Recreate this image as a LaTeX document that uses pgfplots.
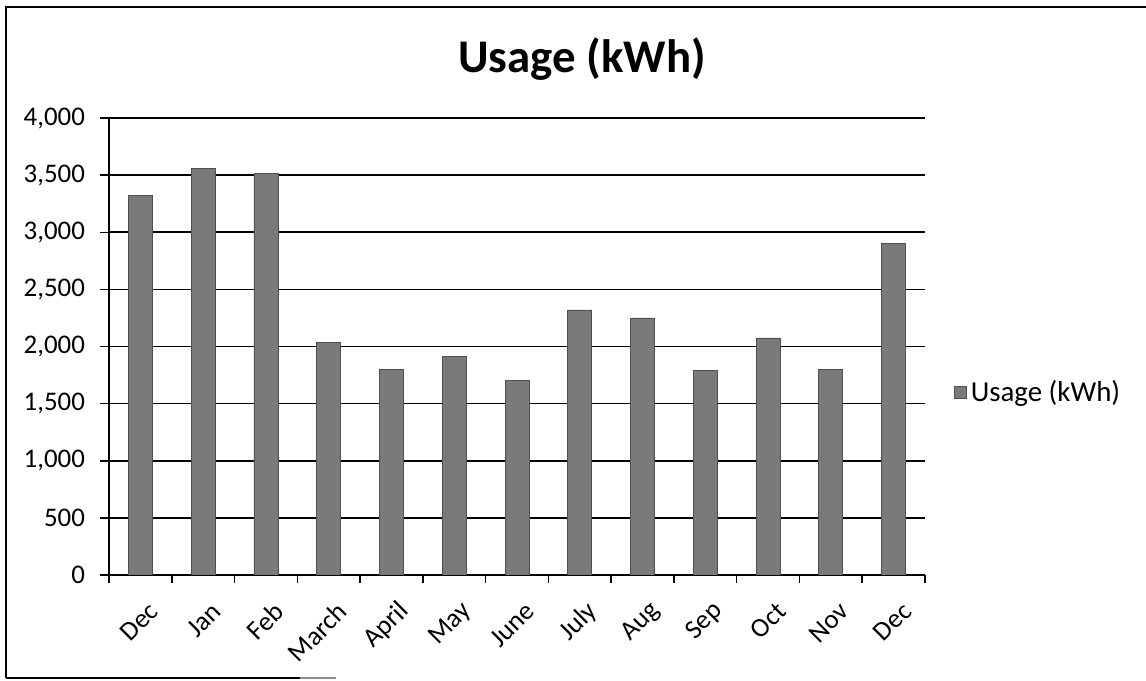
\documentclass[border=0pt]{standalone}
\usepackage{fontspec}
\setmainfont{Carlito}
\usepackage{pgfplots}
\pgfplotsset{compat=1.18}

\definecolor{barfill}{RGB}{122,122,122}
\definecolor{bardraw}{RGB}{80,80,80}

\pgfplotstableread{
idx value
0  3325
1  3560
2  3515
3  2035
4  1800
5  1910
6  1705
7  2320
8  2250
9  1790
10 2075
11 1800
12 2905
}\usagedata

\begin{document}
\begin{tikzpicture}
% canvas: 1146 x 681 px at 0.5bp per px
\useasboundingbox (0,0) rectangle (573bp,340.5bp);
% chart frame (scanned: left, top, part of bottom)
\draw[black, line width=0.6bp] (3bp,1.5bp) -- (3bp,337bp) -- (573bp,337bp);
\draw[black, line width=0.6bp] (3bp,1.5bp) -- (150bp,1.5bp);
\draw[black!45, line width=0.6bp] (150bp,1.5bp) -- (168bp,1.5bp);

\node[font=\bfseries\fontsize{23.5}{27}\selectfont, anchor=center] at (291bp,311bp) {Usage (kWh)};

\begin{axis}[
    at={(54.5bp,53bp)}, anchor=south west,
    scale only axis, width=408bp, height=228.5bp,
    ybar, bar width=12bp,
    xmin=-0.5, xmax=12.5,
    ymin=0, ymax=4000,
    ytick={0,500,...,4000},
    xtick={0,...,12},
    xticklabels={Dec,Jan,Feb,March,April,May,June,July,Aug,Sep,Oct,Nov,Dec},
    minor xtick={-0.5,0.5,...,12.5},
    x tick style={draw=none},
    minor x tick style={draw=black, line width=0.75bp},
    y tick style={draw=black, line width=0.75bp},
    tick align=outside,
    major tick length=4.5bp, minor tick length=4bp,
    axis x line*=bottom, axis y line*=left,
    axis line style={-, black, line width=0.75bp},
    ymajorgrids, grid style={black, line width=0.85bp},
    tick label style={font=\fontsize{13.5}{16}\selectfont},
    xticklabel style={rotate=45, anchor=east, yshift=-13bp, xshift=0bp},
    yticklabel style={xshift=-4bp},
    /pgf/number format/.cd, fixed, precision=0, 1000 sep={,}, assume math mode=true,
    /pgfplots/.cd,
    legend style={draw=none, fill=none, at={(1.035,0.40)}, anchor=west,
        font=\fontsize{14.5}{17}\selectfont, inner sep=0pt},
    legend image code/.code={\fill[#1] (0bp,-3bp) rectangle (6bp,3bp);},
]
\addplot[fill=barfill, draw=bardraw, line width=0.4bp] table[x=idx, y=value] {\usagedata};
\addlegendentry{Usage (kWh)}
\end{axis}
\end{tikzpicture}
\end{document}
